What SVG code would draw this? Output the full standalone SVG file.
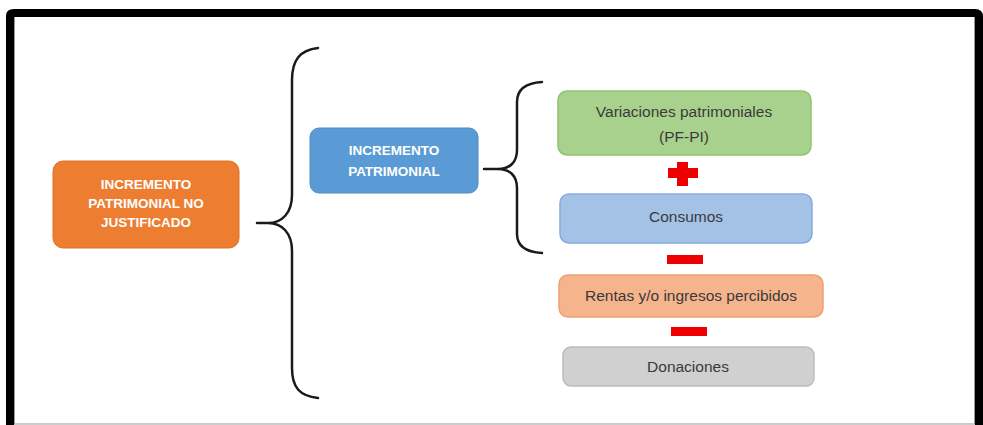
<svg xmlns="http://www.w3.org/2000/svg" width="983" height="425" viewBox="0 0 983 425">
<style>
.frame{fill:none;stroke:#000;stroke-width:8;stroke-linejoin:round}
.brace{fill:none;stroke:#1a1a1a;stroke-width:2.5;stroke-linecap:round}
.hdr{font-family:"Liberation Sans",Arial,sans-serif;font-weight:bold;font-size:13.5px;fill:#fff;text-anchor:middle}
.lbl{font-family:"Liberation Sans",Arial,sans-serif;font-size:15.5px;fill:#3a3a3a;text-anchor:middle}
.op{fill:#ee0000}
</style>
<rect width="983" height="425" fill="#fff"/>
<path class="frame" d="M10,430 V16 Q10,13 14,13 H975 Q979,13 979,17 V430"/>
<line x1="14" y1="424" x2="975" y2="424" stroke="#999" stroke-width="1"/>
<line x1="14.5" y1="17" x2="14.5" y2="424" stroke="#999" stroke-width="1"/>
<line x1="974.5" y1="17" x2="974.5" y2="424" stroke="#999" stroke-width="1"/>

<g id="connectors">
<path class="brace" d="M318,48 C300,50 292,60 292,80 V195 C292,213 282,223 268,223 H257 M268,223 C282,223 292,233 292,251 V368 C292,388 300,396 318,398"/>
<path class="brace" d="M542,82 C525,83 517,90 517,102 V150 C517,162 510,169 498,169 H484 M498,169 C510,169 517,176 517,188 V234 C517,246 525,252 542,253"/>
</g>

<g id="node-ipnj">
<rect x="53" y="161" width="186" height="87" rx="10" fill="#ed7d31" stroke="#e07028" stroke-width="1"/>
<text class="hdr" x="146" y="189">INCREMENTO</text>
<text class="hdr" x="146" y="208">PATRIMONIAL NO</text>
<text class="hdr" x="146" y="227">JUSTIFICADO</text>
</g>

<g id="node-ip">
<rect x="310" y="128" width="168" height="65" rx="9" fill="#5b9bd5" stroke="#4f8cc5" stroke-width="1"/>
<text class="hdr" x="394" y="155">INCREMENTO</text>
<text class="hdr" x="394" y="176">PATRIMONIAL</text>
</g>

<g id="node-variaciones">
<rect x="558" y="91" width="253" height="64" rx="9" fill="#a9d18e" stroke="#8fc46f" stroke-width="1.5"/>
<text class="lbl" x="684" y="117">Variaciones patrimoniales</text>
<text class="lbl" x="684" y="142">(PF-PI)</text>
</g>

<g id="op-plus">
<rect class="op" x="668" y="168" width="30" height="10"/>
<rect class="op" x="677" y="162" width="11" height="24"/>
</g>

<g id="node-consumos">
<rect x="560" y="194" width="252" height="49" rx="9" fill="#a4c2e6" stroke="#86acdc" stroke-width="1.5"/>
<text class="lbl" x="686" y="222">Consumos</text>
</g>

<g id="op-minus1">
<rect class="op" x="667" y="255" width="36" height="9"/>
</g>

<g id="node-rentas">
<rect x="559" y="275" width="264" height="42" rx="9" fill="#f5b48c" stroke="#f0a070" stroke-width="1.5"/>
<text class="lbl" x="691" y="301">Rentas y/o ingresos percibidos</text>
</g>

<g id="op-minus2">
<rect class="op" x="671" y="327" width="36" height="9"/>
</g>

<g id="node-donaciones">
<rect x="563" y="347" width="251" height="39" rx="8" fill="#d0d0d0" stroke="#bcbcbc" stroke-width="1.5"/>
<text class="lbl" x="688" y="372">Donaciones</text>
</g>
</svg>
